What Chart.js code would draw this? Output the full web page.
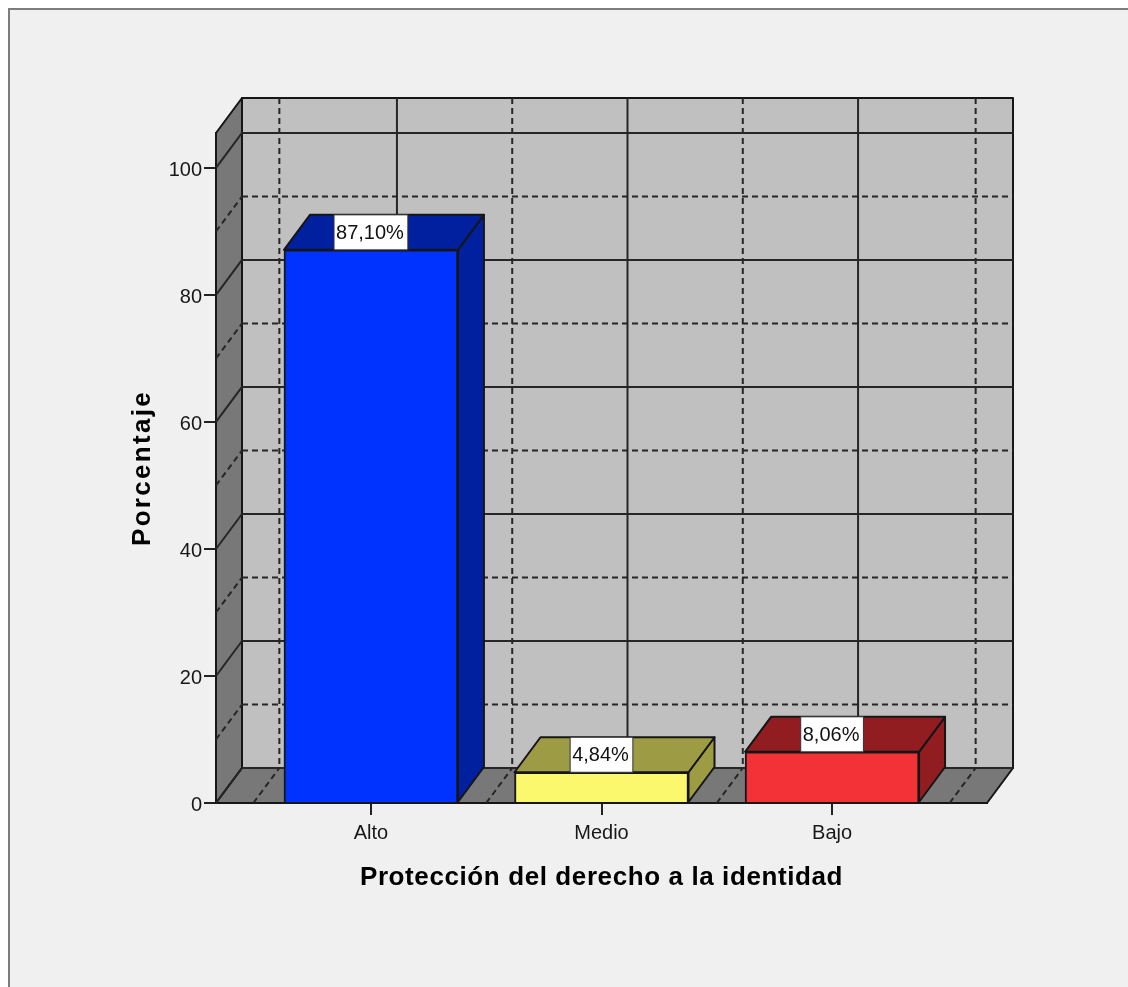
<!DOCTYPE html>
<html lang="es">
<head>
<meta charset="utf-8">
<title>Protección del derecho a la identidad</title>
<script src="https://cdn.jsdelivr.net/npm/chart.js@4"></script>
<style>
html,body{margin:0;padding:0;background:#fff}
canvas{display:block;filter:blur(.4px)}
</style>
</head>
<body>
<canvas id="c" width="1128" height="987"></canvas>
<script>
const categories = ["Alto", "Medio", "Bajo"];
const values = [87.10, 4.84, 8.06];
const valueLabels = ["87,10%", "4,84%", "8,06%"];
const yTicks = [0, 20, 40, 60, 80, 100];
const yMinorTicks = [10, 30, 50, 70, 90];
const xBoundaries = [-0.51, 0.5, 1.5, 2.51];
const frontColors = ["#0033ff", "#fbf86e", "#f23237"];
const darkColors = ["#00209f", "#9e9b45", "#911d21"];
const xTitle = "Protección del derecho a la identidad";
const yTitle = "Porcentaje";

const DX = 26, DY = 35;
const LINE = "#161616";
const FONT = "'Liberation Sans', Arial, sans-serif";

function poly(ctx, pts, fill) {
  ctx.beginPath();
  pts.forEach((p, i) => i ? ctx.lineTo(p[0], p[1]) : ctx.moveTo(p[0], p[1]));
  ctx.closePath();
  if (fill) { ctx.fillStyle = fill; ctx.fill(); }
  ctx.stroke();
}
function seg(ctx, x1, y1, x2, y2) {
  ctx.beginPath(); ctx.moveTo(x1, y1); ctx.lineTo(x2, y2); ctx.stroke();
}
function spaced(scale, spacing) {
  if (scale._spaced) return;
  scale._spaced = true;
  const draw = scale.drawTitle;
  scale.drawTitle = function (a) {
    const ctx = this.ctx;
    ctx.save();
    ctx.letterSpacing = spacing;
    draw.call(this, a);
    ctx.restore();
  };
}

const scene3d = {
  id: "scene3d",
  beforeDraw(chart) {
    const ctx = chart.ctx;
    ctx.save();
    ctx.fillStyle = "#ffffff";
    ctx.fillRect(0, 0, 1128, 987);
    ctx.fillStyle = "#f0f0f0";
    ctx.fillRect(8, 8, 1120, 979);
    ctx.fillStyle = "#7d7d7d";
    ctx.fillRect(8, 8, 1120, 2);
    ctx.fillRect(8, 8, 2, 979);
    ctx.restore();
  },
  beforeDatasetsDraw(chart) {
    const ctx = chart.ctx, a = chart.chartArea;
    const x = chart.scales.x, y = chart.scales.y;
    ctx.save();
    ctx.strokeStyle = LINE;
    ctx.lineWidth = 2;
    ctx.lineJoin = "round";
    // back wall, left wall, floor
    poly(ctx, [[a.left + DX, a.top - DY], [a.right + DX, a.top - DY], [a.right + DX, a.bottom - DY], [a.left + DX, a.bottom - DY]], "#c0c0c0");
    poly(ctx, [[a.left, a.top], [a.left + DX, a.top - DY], [a.left + DX, a.bottom - DY], [a.left, a.bottom]], "#787878");
    poly(ctx, [[a.left, a.bottom], [a.right, a.bottom], [a.right + DX, a.bottom - DY], [a.left + DX, a.bottom - DY]], "#787878");
    // dashed minor grid
    ctx.lineWidth = 2;
    ctx.setLineDash([6, 4]);
    ctx.strokeStyle = "#262626";
    yMinorTicks.forEach(v => {
      const p = y.getPixelForValue(v);
      seg(ctx, a.left + DX, p - DY, a.right + DX, p - DY);
      seg(ctx, a.left, p, a.left + DX, p - DY);
    });
    xBoundaries.forEach(v => {
      const p = x.getPixelForValue(v);
      seg(ctx, p + DX, a.top - DY, p + DX, a.bottom - DY);
      seg(ctx, p, a.bottom, p + DX, a.bottom - DY);
    });
    // solid major grid
    ctx.setLineDash([]);
    ctx.strokeStyle = "#262626";
    yTicks.forEach(v => {
      const p = y.getPixelForValue(v);
      seg(ctx, a.left + DX, p - DY, a.right + DX, p - DY);
      seg(ctx, a.left, p, a.left + DX, p - DY);
    });
    categories.forEach((_, i) => {
      const p = x.getPixelForValue(i);
      seg(ctx, p + DX, a.top - DY, p + DX, a.bottom - DY);
    });
    // bar depth faces
    ctx.strokeStyle = LINE;
    ctx.lineWidth = 2;
    chart.getDatasetMeta(0).data.forEach((bar, i) => {
      const l = bar.x - bar.width / 2, r = bar.x + bar.width / 2, t = bar.y, b = bar.base;
      poly(ctx, [[r, t], [r + DX, t - DY], [r + DX, b - DY], [r, b]], darkColors[i]);
      poly(ctx, [[l, t], [l + DX, t - DY], [r + DX, t - DY], [r, t]], darkColors[i]);
    });
    ctx.restore();
  },
  afterDatasetsDraw(chart) {
    const ctx = chart.ctx;
    ctx.save();
    ctx.font = "20px " + FONT;
    ctx.textAlign = "center";
    ctx.textBaseline = "middle";
    chart.getDatasetMeta(0).data.forEach((bar, i) => {
      const w = ctx.measureText(valueLabels[i]).width + 6, h = 35;
      ctx.fillStyle = "#ffffff";
      ctx.strokeStyle = "#333333";
      ctx.lineWidth = 1;
      ctx.fillRect(bar.x - w / 2, bar.y - h, w, h);
      ctx.strokeRect(bar.x - w / 2, bar.y - h, w, h);
      ctx.fillStyle = "#111111";
      ctx.fillText(valueLabels[i], bar.x - 1, bar.y - h / 2 + 1);
    });
    ctx.restore();
  }
};

new Chart(document.getElementById("c"), {
  type: "bar",
  data: {
    datasets: [{
      data: values.map((v, i) => ({ x: i, y: v })),
      backgroundColor: frontColors,
      borderColor: LINE,
      borderWidth: 2,
      barThickness: 174
    }]
  },
  plugins: [scene3d],
  options: {
    responsive: false,
    animation: false,
    devicePixelRatio: 1,
    layout: { padding: { left: 127, top: 133, right: 141, bottom: 94 } },
    plugins: { legend: { display: false }, tooltip: { enabled: false } },
    scales: {
      x: {
        type: "linear",
        offset: false,
        min: -0.672,
        max: 2.672,
        afterBuildTicks(s) { s.ticks = categories.map((_, i) => ({ value: i })); },
        afterFit(s) { s.height = 90; spaced(s, "0.6px"); },
        grid: { display: true, offset: false, drawOnChartArea: false, drawTicks: true, tickLength: 12, color: "#222222", lineWidth: 2 },
        border: { display: true, color: LINE, width: 2 },
        ticks: {
          autoSkip: false, maxRotation: 0, padding: 6, color: "#181818",
          font: { family: FONT, size: 20 },
          callback: v => categories[v]
        },
        title: {
          display: true, text: xTitle, color: "#000000",
          font: { family: FONT, size: 26, weight: "bold" }, padding: 0
        }
      },
      y: {
        min: 0,
        max: 105.5,
        afterBuildTicks(s) { s.ticks = yTicks.map(v => ({ value: v })); },
        afterFit(s) { s.width = 89; spaced(s, "2.3px"); },
        grid: { display: true, drawOnChartArea: false, drawTicks: true, tickLength: 12, color: "#222222", lineWidth: 2 },
        border: { display: true, color: LINE, width: 2 },
        ticks: {
          padding: 2, color: "#181818", labelOffset: 2.5,
          font: { family: FONT, size: 20 }
        },
        title: {
          display: true, text: yTitle, color: "#000000",
          font: { family: FONT, size: 26, weight: "bold" }, padding: 0
        }
      }
    }
  }
});
</script>
</body>
</html>
